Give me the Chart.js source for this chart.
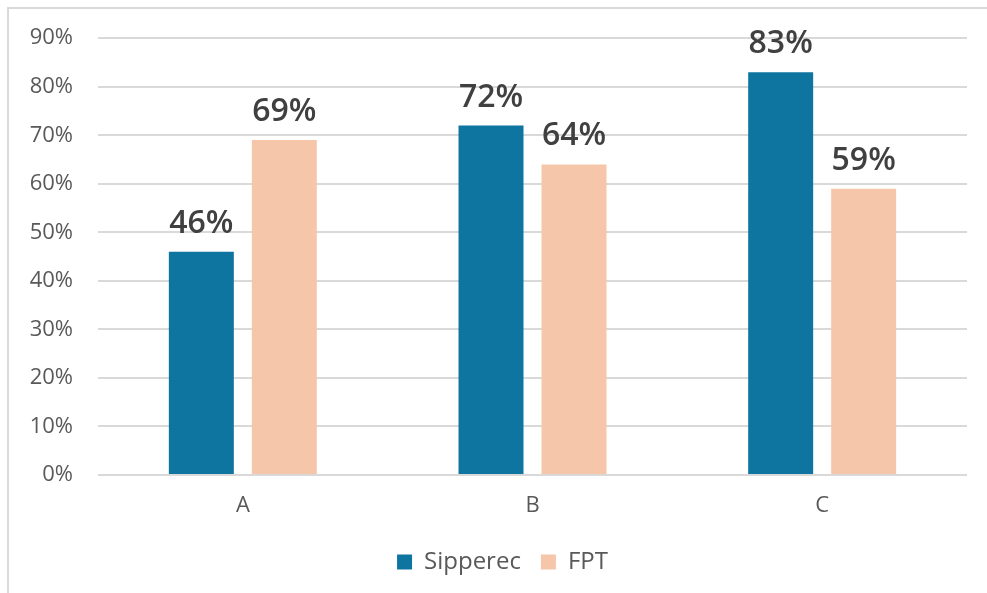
<!DOCTYPE html>
<html>
<head>
<meta charset="utf-8">
<script src="https://cdn.jsdelivr.net/npm/chart.js@4.4.1/dist/chart.umd.min.js"></script>
<style>
  html, body { margin: 0; padding: 0; background: #fff; overflow: hidden; }
  #frame { position: absolute; left: 7px; top: 7px; width: 1200px; height: 800px; border: 2px solid #d9d9d9; box-sizing: border-box; }
  #wrap { position: absolute; left: 0; top: 0; width: 987px; height: 593px; }
</style>
</head>
<body>
<div id="frame"></div>
<div id="wrap"><canvas id="c" width="987" height="593"></canvas></div>
<script>
const categories = ['A', 'B', 'C'];
const sipperec = [46, 72, 83];
const fpt = [69, 64, 59];
const seriesNames = ['Sipperec', 'FPT'];
const yTicks = [0, 10, 20, 30, 40, 50, 60, 70, 80, 90];

const FONT = "'Open Sans', 'Noto Sans', sans-serif";

const dataLabels = {
  id: 'dataLabels',
  afterDatasetsDraw(chart) {
    const ctx = chart.ctx;
    ctx.save();
    ctx.font = "600 32px " + FONT;
    ctx.fillStyle = '#404040';
    ctx.textAlign = 'center';
    ctx.textBaseline = 'alphabetic';
    chart.data.datasets.forEach((ds, i) => {
      const meta = chart.getDatasetMeta(i);
      meta.data.forEach((bar, j) => {
        ctx.fillText(ds.data[j] + '%', bar.x, bar.y - 19);
      });
    });
    ctx.restore();
  }
};

const legendShift = {
  id: 'legendShift',
  afterLayout(chart) {
    if (chart.legend) { chart.legend.left += 19; chart.legend.right += 19; }
  }
};

new Chart(document.getElementById('c'), {
  type: 'bar',
  data: {
    labels: categories,
    datasets: [
      { label: seriesNames[0], data: sipperec, backgroundColor: '#0E74A0', categoryPercentage: 0.573, barPercentage: 0.783 },
      { label: seriesNames[1], data: fpt, backgroundColor: '#F5C6AA', categoryPercentage: 0.573, barPercentage: 0.783 }
    ]
  },
  options: {
    responsive: false,
    animation: false,
    layout: { padding: { top: 37, right: 20, bottom: 9, left: 0 } },
    plugins: {
      legend: {
        position: 'bottom',
        labels: {
          boxWidth: 15, boxHeight: 15, padding: 20,
          color: '#595959',
          font: { family: FONT, size: 24 }
        }
      },
      tooltip: { enabled: false }
    },
    scales: {
      x: {
        grid: { display: false, drawTicks: false },
        border: { display: false },
        ticks: { color: '#595959', font: { family: FONT, size: 22 }, padding: 18 },
        afterFit(s) { s.height = 55; }
      },
      y: {
        min: 0, max: 90,
        afterBuildTicks(s) { s.ticks = yTicks.map(v => ({ value: v })); },
        grid: { color: '#d9d9d9', lineWidth: 2, drawTicks: false },
        border: { display: false },
        ticks: { color: '#595959', font: { family: FONT, size: 22 }, padding: 25, callback: v => v + '%' },
        afterFit(s) { s.width = 98; }
      }
    }
  },
  plugins: [dataLabels, legendShift]
});
</script>
</body>
</html>
